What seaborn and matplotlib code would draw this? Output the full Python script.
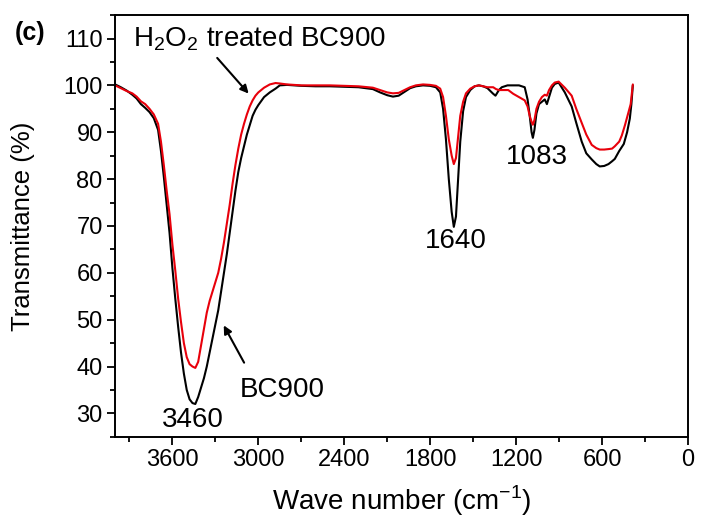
import numpy as np
import pandas as pd
import matplotlib
matplotlib.use("Agg")
import matplotlib.pyplot as plt
from matplotlib.ticker import MultipleLocator
import seaborn as sns

# ---- data ----
wn_bc900 = [4000, 3960, 3920, 3880, 3850, 3820, 3790, 3760, 3730, 3700, 3680, 3660, 3640,
            3620, 3600, 3580, 3560, 3540, 3520, 3500, 3480, 3460, 3440, 3420, 3400, 3380,
            3360, 3340, 3320, 3300, 3280, 3260, 3240, 3220, 3200, 3180, 3160, 3140, 3120,
            3100, 3080, 3060, 3040, 3020, 3000, 2960, 2920, 2880, 2850, 2800, 2700, 2600,
            2500, 2400, 2300, 2200, 2150, 2100, 2060, 2020, 1980, 1940, 1900, 1850, 1800,
            1760, 1730, 1710, 1690, 1670, 1650, 1635, 1620, 1605, 1590, 1570, 1550, 1520,
            1490, 1460, 1430, 1400, 1380, 1360, 1344, 1320, 1300, 1260, 1220, 1180, 1140,
            1120, 1105, 1092, 1083, 1072, 1058, 1040, 1020, 1000, 985, 970, 950, 930, 903,
            860, 812, 780, 742, 710, 672, 640, 616, 585, 555, 530, 511, 480, 448, 425,
            406, 395, 385]
tr_bc900 = [100.2, 99.6, 98.9, 98.0, 97.2, 96.0, 95.2, 94.3, 93.0, 90.5, 86.0, 80.5, 74.5,
            68.5, 61.0, 54.5, 48.5, 43.0, 38.5, 35.0, 33.0, 32.2, 32.0, 33.5, 35.5, 37.5,
            40.0, 43.0, 46.0, 49.0, 52.0, 56.0, 60.0, 64.0, 68.5, 73.0, 77.5, 81.5, 84.5,
            87.0, 89.5, 91.5, 93.5, 94.8, 95.8, 97.5, 98.5, 99.3, 100.0, 100.1, 99.9, 99.8,
            99.8, 99.7, 99.6, 99.2, 98.5, 97.9, 97.6, 97.8, 98.6, 99.4, 99.8, 100.0, 99.9,
            99.6, 98.5, 95.0, 88.5, 80.0, 73.0, 69.8, 72.0, 80.0, 88.0, 94.5, 97.5, 99.0,
            99.8, 100.0, 99.8, 99.4, 98.8, 98.2, 97.8, 99.0, 99.6, 100.0, 100.0, 100.0, 99.6,
            97.0, 93.5, 90.0, 88.8, 90.5, 94.0, 96.0, 96.5, 97.0, 96.0, 97.5, 99.5, 100.3, 100.6,
            98.5, 95.5, 92.0, 88.0, 85.5, 84.2, 83.2, 82.7, 82.8, 83.2, 83.8, 84.3, 86.0, 87.5, 90.0,
            92.9, 96.0, 100.0]

wn_h2o2 = [4000, 3960, 3920, 3880, 3850, 3820, 3790, 3760, 3730, 3700, 3680, 3660, 3640,
           3620, 3600, 3580, 3560, 3540, 3520, 3500, 3480, 3460, 3440, 3420, 3400, 3380,
           3360, 3340, 3320, 3300, 3280, 3260, 3240, 3220, 3200, 3180, 3160, 3140, 3120,
           3100, 3080, 3060, 3040, 3020, 3000, 2960, 2920, 2880, 2850, 2800, 2700, 2600,
           2500, 2400, 2300, 2200, 2150, 2100, 2060, 2020, 1980, 1940, 1900, 1850, 1800,
           1760, 1730, 1710, 1690, 1670, 1650, 1635, 1620, 1605, 1590, 1570, 1550, 1520,
           1490, 1460, 1430, 1400, 1380, 1360, 1340, 1320, 1300, 1255, 1220, 1180, 1140,
           1120, 1105, 1092, 1083, 1072, 1058, 1040, 1020, 1000, 985, 970, 950, 930, 903,
           860, 812, 780, 742, 710, 672, 640, 616, 585, 555, 530, 511, 480, 462, 440,
           415, 400, 385]
tr_h2o2 = [100.0, 99.4, 98.8, 98.3, 97.6, 96.6, 96.0, 95.0, 93.8, 91.8, 88.0, 83.0, 77.5,
           72.5, 66.0, 60.5, 54.5, 49.5, 45.0, 42.0, 40.5, 40.0, 39.7, 41.0, 44.5, 48.0,
           51.5, 54.0, 56.0, 58.0, 60.0, 63.0, 66.5, 70.5, 74.5, 79.0, 83.0, 86.5, 89.5,
           91.8, 93.8, 95.5, 96.8, 97.8, 98.5, 99.5, 100.2, 100.5, 100.4, 100.2, 100.0, 100.0,
           100.0, 99.9, 99.8, 99.5, 99.0, 98.5, 98.3, 98.4, 99.0, 99.6, 100.0, 100.2, 100.1,
           99.9, 99.3, 97.5, 93.5, 88.5, 85.0, 83.2, 84.5, 89.0, 93.5, 96.5, 98.3, 99.3,
           99.8, 100.0, 99.8, 99.6, 99.6, 99.6, 99.2, 99.0, 99.0, 99.0, 98.2, 97.5, 96.8,
           95.5, 93.5, 92.2, 91.6, 92.6, 95.0, 96.5, 97.5, 98.0, 97.8, 99.0, 100.0, 100.6, 100.8,
           99.5, 97.8, 95.0, 92.0, 89.5, 87.3, 86.6, 86.3, 86.3, 86.4, 86.5, 87.0, 88.0, 89.3, 91.5,
           94.3, 96.0, 100.2]

series_names = ["BC900", "H2O2 treated BC900"]
x_ticks = [3600, 3000, 2400, 1800, 1200, 600, 0]
y_ticks = [30, 40, 50, 60, 70, 80, 90, 100, 110]

df = pd.concat([
    pd.DataFrame({"wn": wn_bc900, "T": tr_bc900, "sample": series_names[0]}),
    pd.DataFrame({"wn": wn_h2o2, "T": tr_h2o2, "sample": series_names[1]}),
], ignore_index=True)

sns.set_style("ticks")
plt.rcParams["font.family"] = ["Liberation Sans", "DejaVu Sans"]
plt.rcParams["mathtext.fontset"] = "custom"
plt.rcParams["mathtext.rm"] = "Liberation Sans"
for k in ["text.color", "axes.labelcolor", "xtick.color", "ytick.color", "axes.edgecolor"]:
    plt.rcParams[k] = "black"

fig = plt.figure(figsize=(7.02, 5.2), dpi=100)
ax = fig.add_axes([0.164, 0.160, 0.816, 0.811])

sns.lineplot(data=df, x="wn", y="T", hue="sample", sort=False, estimator=None,
             palette={series_names[0]: "black", series_names[1]: "#e8000b"},
             linewidth=1.5, legend=False, ax=ax)

ax.set_xlim(4000, 0)
ax.set_ylim(25, 115)
ax.set_xticks(x_ticks)
ax.set_yticks(y_ticks)
ax.xaxis.set_minor_locator(MultipleLocator(300))
ax.yaxis.set_minor_locator(MultipleLocator(5))
ax.tick_params(which="major", direction="out", length=6, width=1.3, labelsize=17, pad=3)
ax.tick_params(which="minor", direction="out", length=3.5, width=1.3)
for s in ax.spines.values():
    s.set_linewidth(1.4)
    s.set_color("black")

ax.set_xlabel("Wave number (cm$^{-1}$)", fontsize=20, labelpad=9)
ax.set_ylabel("Transmittance (%)", fontsize=18.5)
ax.yaxis.set_label_coords(-0.140, 0.5)

ax.text(2990, 110.0, r"H$_\mathregular{2}$O$_\mathregular{2}$ treated BC900",
        fontsize=20, ha="center", va="center")
ax.annotate("", xy=(3055, 97.8), xytext=(3300, 106.3),
            arrowprops=dict(arrowstyle="-|>", color="black", lw=1.5, mutation_scale=12))
ax.text(2830, 35.0, "BC900", fontsize=20, ha="center", va="center")
ax.annotate("", xy=(3251, 49.3), xytext=(3090, 40.3),
            arrowprops=dict(arrowstyle="-|>", color="black", lw=1.5, mutation_scale=12))
ax.text(3454, 28.5, "3460", fontsize=20, ha="center", va="center")
ax.text(1620, 66.8, "1640", fontsize=20, ha="center", va="center")
ax.text(1057, 84.8, "1083", fontsize=20, ha="center", va="center")
fig.text(0.043, 0.936, "(c)", fontsize=18, fontweight="bold", ha="center", va="center")

fig.savefig("out.png", dpi=100)
